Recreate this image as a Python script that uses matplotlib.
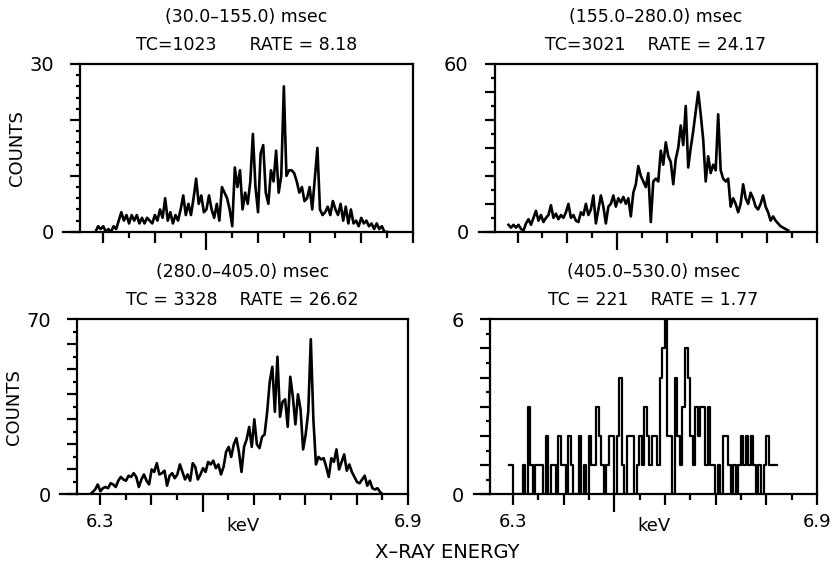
import numpy as np
import matplotlib
matplotlib.use('Agg')
import matplotlib.pyplot as plt
import matplotlib.font_manager as fm
from matplotlib.ticker import MultipleLocator, FuncFormatter

# ---------------------------
# font: a narrow face if one is installed
# ---------------------------
names = {f.name for f in fm.fontManager.ttflist}
FONT = 'Liberation Sans Narrow' if 'Liberation Sans Narrow' in names else 'DejaVu Sans'
plt.rcParams['font.family'] = [FONT, 'DejaVu Sans']

# ---------------------------
# data (counts per 0.005 keV channel)
# ---------------------------
STEP = 0.005

E0_A = 6.285
COUNTS_A = [0, 1, 0.5, 1, 0, 0.5, 0, 1, 0.5, 2,
            3.5, 2, 3, 1.5, 3, 2, 3, 1.5, 2.5, 1.5,
            2.5, 2, 1.5, 3, 2, 4, 2.5, 6, 2, 3.5,
            1.5, 3, 2, 4, 6.5, 3, 5, 3, 6, 9.5,
            5, 6.5, 3.5, 4, 6.5, 4, 2.5, 5, 2, 8,
            7, 6, 4, 1, 11.5, 8, 11, 4, 7, 5,
            9, 17.5, 8, 3.5, 14, 15.5, 7, 5, 11, 9,
            14.5, 7, 10, 26, 10, 11, 11, 10.5, 9, 7,
            8, 5.5, 6, 8, 4, 9.5, 15, 4, 3, 3.5,
            4.5, 3, 5.5, 4, 3, 5, 2, 4.5, 1.5, 4,
            1.5, 2, 1, 2.5, 1.5, 2, 1, 1.5, 0.5, 1.5,
            0.5, 1, 0, 0]

E0_B = 6.282
COUNTS_B = [2.5, 1.5, 2.5, 1.5, 2.5, 1, 0.5, 3, 4.5, 2.5,
            5, 7.5, 4, 6, 3.5, 5, 6, 9.5, 5, 6.5,
            4.5, 6, 5, 7, 10, 5, 6, 4, 3.5, 7,
            6, 10, 6, 8, 13, 3, 8, 13, 9, 3,
            9, 10, 13, 9, 12, 10.5, 12.5, 10, 12, 5.5,
            14, 17, 23.5, 20, 18, 16, 21, 3.5, 18, 19,
            18, 29, 24, 32, 27, 25, 17, 26, 30, 38,
            31, 45, 23, 30, 36, 43, 50, 42, 33, 18,
            27, 21, 24, 22, 42, 22, 19, 18, 19, 9,
            12, 10, 7, 10, 17, 12, 10, 14, 12, 9,
            8, 10, 13, 9, 7, 4, 5.5, 4, 3, 2,
            1.5, 1, 0.5]

E0_C = 6.2805
COUNTS_C = [0, 1, 2, 4, 1.3, 2.5, 3, 2.5, 4.5, 4,
            3, 5.5, 7, 6, 5.5, 7.5, 7, 8.5, 7, 3,
            6, 8, 5.5, 4, 10, 9, 12.5, 8, 8.5, 9.5,
            3.5, 7.5, 8.5, 6.5, 8, 12, 9, 6, 8, 5.5,
            12.5, 11, 6, 8, 10.5, 9, 13, 12, 13.5, 10.5,
            12, 8, 11, 17, 19, 15, 20, 22.5, 17, 9,
            19, 22, 27, 19, 30, 20, 18.5, 23, 24, 33,
            45, 51, 33, 55, 31, 37, 38, 27, 47, 39,
            28, 40, 34, 18, 24, 33, 62, 30, 12, 15,
            14, 14.5, 11, 7, 14.5, 13, 18, 10, 13, 16,
            9.5, 12, 9, 7, 5, 4.5, 6, 7.5, 3.5, 5.5,
            2.5, 2, 2.5, 1, 0]

E0_D = 6.292
COUNTS_D = [1, 1, 0, 0, 0, 0, 1, 0, 3, 1,
            0, 1, 1, 1, 0, 2, 0, 1, 1, 0,
            2, 1, 1, 0, 2, 1, 0, 0, 2, 0,
            1, 0, 2, 1, 1, 3, 2, 1, 0, 1,
            2, 2, 0, 2, 4, 1, 0, 2, 2, 2,
            0, 1, 2, 1, 3, 2, 1, 2, 2, 1,
            4, 5, 6, 2, 2, 0, 4, 2, 1, 3,
            5, 4, 2, 1, 3, 2, 3, 3, 1, 3,
            1, 1, 0, 1, 0, 2, 2, 1, 0, 1,
            0, 1, 2, 1, 2, 1, 2, 1, 0, 1,
            0, 1, 2, 1, 1, 1, 1]

TITLES = ["(30.0\u2013155.0) msec", "(155.0\u2013280.0) msec",
          "(280.0\u2013405.0) msec", "(405.0\u2013530.0) msec"]
INFO = ["TC=1023      RATE = 8.18", "TC=3021    RATE = 24.17",
        "TC = 3328    RATE = 26.62", "TC = 221    RATE = 1.77"]
YMAX = [30, 60, 70, 6]
YMINOR = [2, 5, 5, 0.5]
YMAJOR = [10, 10, 10, 1]

PANELS = [
    # left, bottom, width, height (figure fraction), energy start, counts
    ([0.0962, 0.594, 0.400, 0.294], E0_A, COUNTS_A),
    ([0.595, 0.594, 0.387, 0.294], E0_B, COUNTS_B),
    ([0.0925, 0.134, 0.398, 0.307], E0_C, COUNTS_C),
    ([0.589, 0.134, 0.393, 0.307], E0_D, COUNTS_D),
]

fig = plt.figure(figsize=(8.32, 5.71), dpi=100)

for k, (rect, e0, counts) in enumerate(PANELS):
    ax = fig.add_axes(rect)
    counts = np.array(counts, dtype=float)
    energy = e0 + STEP * np.arange(len(counts))
    if k == 3:
        ax.plot(energy, counts, color='black', lw=1.6, drawstyle='steps-mid')
    else:
        ax.plot(energy, counts, color='black', lw=1.9)

    ax.set_xlim(6.255, 6.9)
    ax.set_ylim(0, YMAX[k])
    for s in ax.spines.values():
        s.set_linewidth(1.6)

    # x ticks
    ax.xaxis.set_major_locator(MultipleLocator(0.1))
    ax.xaxis.set_minor_locator(MultipleLocator(0.05))
    ax.tick_params(axis='x', which='major', direction='out', length=8, width=1.6,
                   labelsize=13, pad=5)
    ax.tick_params(axis='x', which='minor', direction='out', length=4.5, width=1.6)
    xt = ax.get_xticks()
    ax.set_xticks(xt)
    if k >= 2:
        ax.set_xticklabels(['6.3' if abs(v - 6.3) < 1e-6 else
                            '6.9' if abs(v - 6.9) < 1e-6 else '' for v in xt])
    else:
        ax.set_xticklabels([''] * len(xt))
    ax.set_xlim(6.255, 6.9)
    for t, v in zip(ax.xaxis.get_major_ticks(), xt):
        if abs(v - 6.5) < 1e-6:
            t.tick1line.set_markersize(13)

    # y ticks
    ymax = YMAX[k]
    ax.yaxis.set_major_locator(MultipleLocator(YMAJOR[k]))
    ax.yaxis.set_minor_locator(MultipleLocator(YMINOR[k]))
    ax.yaxis.set_major_formatter(FuncFormatter(
        lambda v, p, m=ymax: f"{int(round(v))}" if (abs(v) < 1e-6 or abs(v - m) < 1e-6) else ''))
    ax.tick_params(axis='y', which='major', direction='out', length=7, width=1.6,
                   labelsize=14, pad=12)
    ax.tick_params(axis='y', which='minor', direction='out', length=3, width=1.6)

    # base line running out to the left of the frame
    ax.plot([-0.05, 0], [0, 0], transform=ax.transAxes, color='black', lw=1.6,
            clip_on=False)

    cx = rect[0] + rect[2] / 2
    top = rect[1] + rect[3]
    fig.text(cx, top + 0.082, TITLES[k], ha='center', va='center', fontsize=12.5)
    fig.text(cx, top + 0.034, INFO[k], ha='center', va='center', fontsize=12.5)

    if k % 2 == 0:
        ax.set_ylabel('COUNTS', fontsize=13, labelpad=2)
    if k >= 2:
        ax.text(0.5, -0.18, 'keV', transform=ax.transAxes, ha='center', va='center',
                fontsize=13)

fig.text(0.537, 0.032, 'X\u2013RAY ENERGY', ha='center', va='center', fontsize=14)

fig.savefig('out.png', dpi=100)
